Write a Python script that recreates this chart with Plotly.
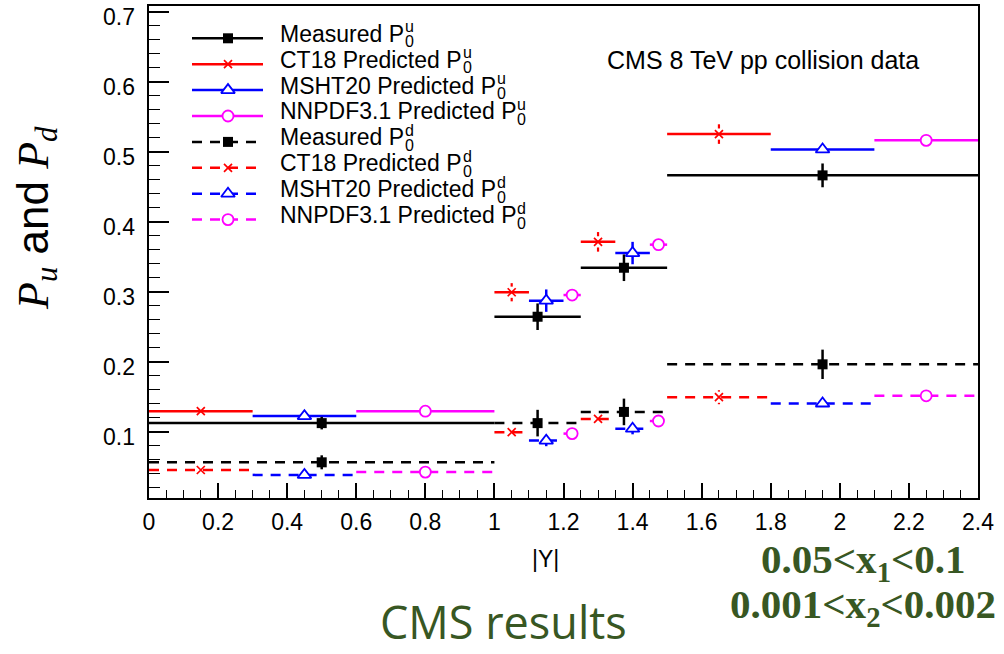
import plotly.graph_objects as go

# ---- data -------------------------------------------------------------
# |Y| bins
bin_lo = [0.0, 1.0, 1.25, 1.5]
bin_hi = [1.0, 1.25, 1.5, 2.4]
meas_x = [0.5, 1.125, 1.375, 1.95]

# display sub-ranges used for each PDF prediction inside a bin
ct18_lo = [0.0, 1.0, 1.25, 1.5]
ct18_hi = [0.3, 1.1, 1.35, 1.8]
ct18_x = [0.15, 1.05, 1.3, 1.65]
msht_lo = [0.3, 1.1, 1.35, 1.8]
msht_hi = [0.6, 1.2, 1.45, 2.1]
msht_x = [0.45, 1.15, 1.4, 1.95]
nnpdf_lo = [0.6, 1.2, 1.45, 2.1]
nnpdf_hi = [1.0, 1.25, 1.5, 2.4]
nnpdf_x = [0.8, 1.225, 1.475, 2.25]

# P0^u
pu_meas = [0.112, 0.264, 0.334, 0.466]
pu_meas_err = [0.009, 0.019, 0.019, 0.017]
pu_ct18 = [0.129, 0.299, 0.371, 0.525]
pu_ct18_err = [0.003, 0.013, 0.014, 0.014]
pu_msht = [0.122, 0.287, 0.355, 0.503]
pu_msht_err = [0.004, 0.016, 0.016, 0.004]
pu_nnpdf = [0.129, 0.295, 0.367, 0.516]
pu_nnpdf_err = [0.003, 0.004, 0.004, 0.004]

# P0^d
pd_meas = [0.056, 0.112, 0.128, 0.196]
pd_meas_err = [0.010, 0.019, 0.019, 0.021]
pd_ct18 = [0.045, 0.099, 0.118, 0.149]
pd_ct18_err = [0.003, 0.004, 0.004, 0.010]
pd_msht = [0.038, 0.087, 0.104, 0.140]
pd_msht_err = [0.003, 0.008, 0.008, 0.004]
pd_nnpdf = [0.042, 0.097, 0.115, 0.151]
pd_nnpdf_err = [0.003, 0.003, 0.003, 0.003]

y_ticks = [0.1, 0.2, 0.3, 0.4, 0.5, 0.6, 0.7]
y_ticklabels = ["0.1", "0.2", "0.3", "0.4", "0.5", "0.6", "0.7"]

legend_labels = ["Measured P", "CT18 Predicted P", "MSHT20 Predicted P",
                 "NNPDF3.1 Predicted P"] * 2
legend_sup = ["u"] * 4 + ["d"] * 4
legend_sub = ["0"] * 8

# ---- styles -----------------------------------------------------------
BLACK, RED, BLUE, MAG = "#000000", "#ff0000", "#0000ff", "#ff00ff"
DASH = "10px,8px"
GREEN = "#385723"

styles = [
    dict(color=BLACK, symbol="square", size=10, mcolor=BLACK, lw=0),
    dict(color=RED, symbol="x-thin", size=8, mcolor=RED, lw=1.7),
    dict(color=BLUE, symbol="triangle-up", size=12, mcolor="white", lw=1.8),
    dict(color=MAG, symbol="circle", size=11, mcolor="white", lw=1.8),
]

series = [
    (bin_lo, bin_hi, meas_x, pu_meas, pu_meas_err, 0, "solid"),
    (ct18_lo, ct18_hi, ct18_x, pu_ct18, pu_ct18_err, 1, "solid"),
    (msht_lo, msht_hi, msht_x, pu_msht, pu_msht_err, 2, "solid"),
    (nnpdf_lo, nnpdf_hi, nnpdf_x, pu_nnpdf, pu_nnpdf_err, 3, "solid"),
    (bin_lo, bin_hi, meas_x, pd_meas, pd_meas_err, 0, DASH),
    (ct18_lo, ct18_hi, ct18_x, pd_ct18, pd_ct18_err, 1, DASH),
    (msht_lo, msht_hi, msht_x, pd_msht, pd_msht_err, 2, DASH),
    (nnpdf_lo, nnpdf_hi, nnpdf_x, pd_nnpdf, pd_nnpdf_err, 3, DASH),
]

# the x marker keeps its centre clear: its bars start just outside it
X_GAP = 0.008

fig = go.Figure()

# horizontal bin segments
for lo, hi, xc, val, err, si, dash in series:
    xs, ys = [], []
    for a, b, v in zip(lo, hi, val):
        xs += [a, b, None]
        ys += [v, v, None]
    fig.add_trace(go.Scatter(x=xs, y=ys, mode="lines", showlegend=False,
                             hoverinfo="skip",
                             line=dict(color=styles[si]["color"], width=2.5, dash=dash)))

# split vertical bars for the x markers
for lo, hi, xc, val, err, si, dash in series:
    if si != 1:
        continue
    xs, ys = [], []
    for x, v, e in zip(xc, val, err):
        if e > X_GAP:
            xs += [x, x, None, x, x, None]
            ys += [v + X_GAP, v + e, None, v - X_GAP, v - e, None]
    if xs:
        fig.add_trace(go.Scatter(x=xs, y=ys, mode="lines", showlegend=False,
                                 hoverinfo="skip", line=dict(color=RED, width=2.2)))

# markers with vertical uncertainties
for lo, hi, xc, val, err, si, dash in series:
    st = styles[si]
    ey = dict(visible=False) if si == 1 else dict(
        type="data", array=err, visible=True, thickness=2.5, width=0, color=st["color"])
    fig.add_trace(go.Scatter(
        x=xc, y=val, mode="markers", showlegend=False, error_y=ey,
        marker=dict(symbol=st["symbol"], size=st["size"], color=st["mcolor"],
                    line=dict(color=st["color"], width=st["lw"]))))

# ---- layout helpers (pixel -> paper) -----------------------------------
L, R, T, B = 149, 978, 6, 498
W, H = 1004, 654


def px(xp):
    return (xp - L) / (R - L)


def py(yp):
    return (B - yp) / (B - T)


# Helvetica/Arial advance widths (1/1000 em) for the legend strings
ADV = {"M": 833, "e": 556, "a": 556, "s": 500, "u": 556, "r": 333, "d": 556,
       " ": 278, "P": 667, "C": 722, "T": 611, "1": 556, "8": 556, "i": 222,
       "c": 500, "t": 278, "H": 722, "S": 667, "2": 556, "0": 556, "N": 722,
       "D": 722, "F": 611, "3": 556, ".": 278}


def text_width(s, size):
    return sum(ADV[ch] for ch in s) * size / 1000.0


# ---- legend drawn on an overlay axis ----------------------------------
row0, drow = 38.3, 25.9
LEG_SIZE, SCRIPT_SIZE = 23, 16
LEG_X = 278.5
for i in range(8):
    st = styles[i % 4]
    yl = row0 + i * drow
    dash = "solid" if i < 4 else DASH
    fig.add_trace(go.Scatter(x=[px(192), px(263)], y=[py(yl), py(yl)], mode="lines",
                             xaxis="x2", yaxis="y2", showlegend=False, hoverinfo="skip",
                             line=dict(color=st["color"], width=2.5, dash=dash)))
    fig.add_trace(go.Scatter(x=[px(228)], y=[py(yl)], mode="markers",
                             xaxis="x2", yaxis="y2", showlegend=False, hoverinfo="skip",
                             marker=dict(symbol=st["symbol"], size=st["size"],
                                         color=st["mcolor"],
                                         line=dict(color=st["color"], width=st["lw"]))))

annotations = []
for i in range(8):
    yl = row0 + i * drow
    x_end = LEG_X + text_width(legend_labels[i], LEG_SIZE)
    annotations.append(dict(xref="paper", yref="paper", x=px(LEG_X), y=py(yl - 4.6),
                            xanchor="left", yanchor="middle", showarrow=False,
                            height=24, borderpad=0, text=legend_labels[i],
                            font=dict(family="Liberation Sans", size=LEG_SIZE,
                                      color="black")))
    for txt, dy in ((legend_sup[i], -12), (legend_sub[i], 3)):
        annotations.append(dict(xref="paper", yref="paper", x=px(x_end + 1.5),
                                y=py(yl + dy), xanchor="left", yanchor="middle",
                                showarrow=False, height=14, borderpad=0, text=txt,
                                font=dict(family="Liberation Sans", size=SCRIPT_SIZE,
                                          color="black")))

# y tick labels, set slightly below their ticks
for v, lab in zip(y_ticks, y_ticklabels):
    annotations.append(dict(xref="paper", yref="y", x=px(136), y=v, yshift=-5,
                            xanchor="right", yanchor="middle", showarrow=False,
                            borderpad=0, text=lab,
                            font=dict(family="Liberation Sans", size=23, color="black")))

annotations += [
    dict(xref="paper", yref="paper", x=px(763), y=py(60), xanchor="center",
         yanchor="middle", showarrow=False, text="CMS 8 TeV pp collision data",
         font=dict(family="Liberation Sans", size=25, color="black")),
    dict(xref="paper", yref="paper", x=px(36), y=py(218), xanchor="center",
         yanchor="middle", showarrow=False, textangle=-90,
         text="<i>P</i><sub><i>u</i></sub><span style='font-family:Liberation Sans'> and </span>"
              "<i>P</i><sub><i>d</i></sub>",
         font=dict(family="Liberation Serif", size=44, color="black")),
    dict(xref="paper", yref="paper", x=px(545), y=py(559), xanchor="center",
         yanchor="middle", showarrow=False, text="|Y|",
         font=dict(family="Liberation Sans", size=23, color="black")),
    dict(xref="paper", yref="paper", x=px(628), y=py(621), xanchor="right",
         yanchor="middle", showarrow=False, text="CMS results", borderpad=0,
         font=dict(family="Open Sans", size=45, color=GREEN)),
    dict(xref="paper", yref="paper", x=px(863), y=py(562), xanchor="center",
         yanchor="middle", showarrow=False, text="<b>0.05&lt;x<sub>1</sub>&lt;0.1</b>",
         font=dict(family="Liberation Serif", size=41, color=GREEN)),
    dict(xref="paper", yref="paper", x=px(863), y=py(607), xanchor="center",
         yanchor="middle", showarrow=False, text="<b>0.001&lt;x<sub>2</sub>&lt;0.002</b>",
         font=dict(family="Liberation Serif", size=41, color=GREEN)),
]

axis_common = dict(showgrid=False, zeroline=False, showline=True, linewidth=2,
                   linecolor="black", mirror=True, ticks="inside", tickcolor="black",
                   automargin=False,
                   tickfont=dict(family="Liberation Sans", size=23, color="black"))

fig.update_layout(
    width=W, height=H,
    margin=dict(l=L, r=W - R, t=T, b=H - B, autoexpand=False),
    paper_bgcolor="white", plot_bgcolor="white",
    showlegend=False,
    xaxis=dict(range=[0, 2.4], tick0=0, dtick=0.2, ticklen=15, tickwidth=1.5,
               ticklabelstandoff=2,
               minor=dict(dtick=0.05, ticks="inside", ticklen=8, tickwidth=1.3,
                          tickcolor="black"),
               **axis_common),
    yaxis=dict(range=[0.005, 0.708], tickvals=y_ticks, ticklen=20, tickwidth=1.5,
               showticklabels=False,
               minor=dict(dtick=0.02, tick0=0, ticks="inside", ticklen=11,
                          tickwidth=1.3, tickcolor="black"),
               **axis_common),
    xaxis2=dict(range=[0, 1], overlaying="x", visible=False, anchor="y2",
                automargin=False),
    yaxis2=dict(range=[0, 1], overlaying="y", visible=False, anchor="x2",
                automargin=False),
    annotations=annotations,
)

fig.write_html("out.html")
